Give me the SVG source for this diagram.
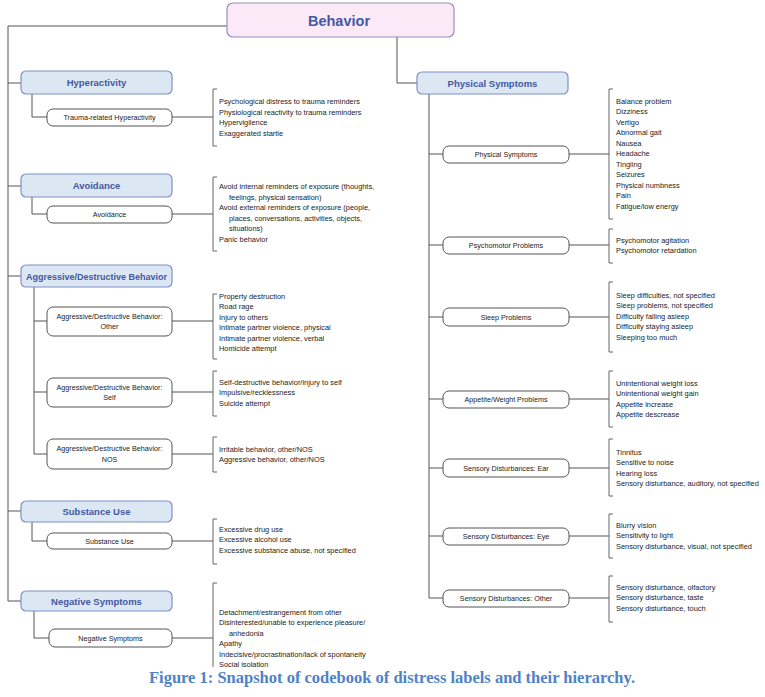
<svg xmlns="http://www.w3.org/2000/svg" width="765" height="697" viewBox="0 0 765 697">
<style>
.bg{fill:#ffffff}
.root{fill:#fbe9f8;stroke:#9a8cc6;stroke-width:1.2}
.hdr{fill:#dce7f4;stroke:#7f8fc4;stroke-width:1.2}
.sub{fill:#ffffff;stroke:#555555;stroke-width:1}
.ln{fill:none;stroke:#555555;stroke-width:1}
.br{fill:none;stroke:#666666;stroke-width:1}
.rt{font-family:"Liberation Sans",Arial,sans-serif;font-weight:bold;font-size:14.5px;fill:#4458a2;text-anchor:middle}
.ht{font-family:"Liberation Sans",Arial,sans-serif;font-weight:bold;font-size:9.5px;fill:#4458a2;text-anchor:middle}
.st{font-family:"Liberation Sans",Arial,sans-serif;font-size:7.2px;fill:#222222;text-anchor:middle}
.it{font-family:"Liberation Sans",Arial,sans-serif;font-size:7.4px;fill:#222222}
.cap{font-family:"Liberation Serif","Times New Roman",serif;font-weight:bold;font-size:16.5px;fill:#4f82c8;text-anchor:middle}
</style>
<defs>
<clipPath id="clipTop"><rect x="0" y="0" width="765" height="667"/></clipPath>
</defs>
<rect class="bg" x="0" y="0" width="765" height="697"/>

<g id="connectors">
<path class="ln" d="M227,26 H8 V601 H21"/>
<path class="ln" d="M8,83 H21 M8,186 H21 M8,276 H21 M8,511 H21"/>
<path class="ln" d="M32,94 V117 H47 M172,117 H213"/>
<path class="ln" d="M32,197 V214 H47 M172,214 H213"/>
<path class="ln" d="M34,287 V454 H47 M34,321 H47 M34,392 H47 M172,321 H213 M172,392 H213 M172,454 H213"/>
<path class="ln" d="M32,522 V541 H47 M172,541 H213"/>
<path class="ln" d="M34,611 V638 H49 M172,638 H213"/>
<path class="ln" d="M397,37 V83 H417"/>
<path class="ln" d="M429,94 V598 H443 M429,154 H443 M429,245 H443 M429,317 H443 M429,399 H443 M429,468 H443 M429,536 H443"/>
<path class="ln" d="M569,154 H609 M569,245 H609 M569,317 H609 M569,399 H609 M569,468 H609 M569,536 H609 M569,598 H609"/>
</g>

<g id="brackets">
<path class="br" d="M217,89 H213 V146 H217"/>
<path class="br" d="M217,177 H213 V251 H217"/>
<path class="br" d="M217,294 H213 V359 H217"/>
<path class="br" d="M217,371 H213 V416 H217"/>
<path class="br" d="M217,437 H213 V472 H217"/>
<path class="br" d="M217,519 H213 V564 H217"/>
<path class="br" d="M217,583 H213 V680" clip-path="url(#clipTop)"/>
<path class="br" d="M613,89 H609 V219 H613"/>
<path class="br" d="M613,229 H609 V263 H613"/>
<path class="br" d="M613,282 H609 V352 H613"/>
<path class="br" d="M613,371 H609 V427 H613"/>
<path class="br" d="M613,439 H609 V496 H613"/>
<path class="br" d="M613,514 H609 V558 H613"/>
<path class="br" d="M613,576 H609 V622 H613"/>
</g>

<g id="behavior">
<rect class="root" x="227" y="3" width="227" height="34" rx="6"/>
<text class="rt" x="339" y="25.5">Behavior</text>
</g>

<g id="hyperactivity">
<rect class="hdr" x="21" y="71" width="151" height="23" rx="5"/>
<text class="ht" x="96.5" y="86">Hyperactivity</text>
</g>
<g id="trauma-related-hyperactivity">
<rect class="sub" x="47" y="109" width="125" height="17" rx="6"/>
<text class="st" x="109.5" y="120">Trauma-related Hyperactivity</text>
</g>
<g id="list-hyperactivity" class="it">
<text x="219" y="104">Psychological distress to trauma reminders</text>
<text x="219" y="114.5">Physiological reactivity to trauma reminders</text>
<text x="219" y="125">Hypervigilence</text>
<text x="219" y="135.5">Exaggerated startle</text>
</g>

<g id="avoidance">
<rect class="hdr" x="21" y="174" width="151" height="23" rx="5"/>
<text class="ht" x="96.5" y="189">Avoidance</text>
</g>
<g id="avoidance-sub">
<rect class="sub" x="47" y="206" width="125" height="17" rx="6"/>
<text class="st" x="109.5" y="217">Avoidance</text>
</g>
<g id="list-avoidance" class="it">
<text x="219" y="189">Avoid internal reminders of exposure (thoughts,</text>
<text x="229" y="199.5">feelings, physical sensation)</text>
<text x="219" y="210">Avoid external reminders of exposure (people,</text>
<text x="229" y="220.5">places, conversations, activities, objects,</text>
<text x="229" y="231">situations)</text>
<text x="219" y="241.5">Panic behavior</text>
</g>

<g id="aggressive">
<rect class="hdr" x="21" y="265" width="151" height="22" rx="5"/>
<text class="ht" x="96.5" y="279.5" textLength="141" lengthAdjust="spacingAndGlyphs">Aggressive/Destructive Behavior</text>
</g>
<g id="aggressive-other">
<rect class="sub" x="47" y="307" width="125" height="29" rx="6"/>
<text class="st" x="109.5" y="318.5">Aggressive/Destructive Behavior:</text>
<text class="st" x="109.5" y="329">Other</text>
</g>
<g id="list-aggressive-other" class="it">
<text x="219" y="298.5">Property destruction</text>
<text x="219" y="309">Road rage</text>
<text x="219" y="319.5">Injury to others</text>
<text x="219" y="330">Intimate partner violence, physical</text>
<text x="219" y="340.5">Intimate partner violence, verbal</text>
<text x="219" y="351">Homicide attempt</text>
</g>
<g id="aggressive-self">
<rect class="sub" x="47" y="378" width="125" height="29" rx="6"/>
<text class="st" x="109.5" y="389.5">Aggressive/Destructive Behavior:</text>
<text class="st" x="109.5" y="400">Self</text>
</g>
<g id="list-aggressive-self" class="it">
<text x="219" y="384.5">Self-destructive behavior/injury to self</text>
<text x="219" y="395">Impulsive/recklessness</text>
<text x="219" y="405.5">Suicide attempt</text>
</g>
<g id="aggressive-nos">
<rect class="sub" x="47" y="439" width="125" height="30" rx="6"/>
<text class="st" x="109.5" y="451">Aggressive/Destructive Behavior:</text>
<text class="st" x="109.5" y="461.5">NOS</text>
</g>
<g id="list-aggressive-nos" class="it">
<text x="219" y="451.5">Irritable behavior, other/NOS</text>
<text x="219" y="462">Aggressive behavior, other/NOS</text>
</g>

<g id="substance-use">
<rect class="hdr" x="21" y="501" width="151" height="21" rx="5"/>
<text class="ht" x="96.5" y="515">Substance Use</text>
</g>
<g id="substance-use-sub">
<rect class="sub" x="47" y="533" width="125" height="16" rx="6"/>
<text class="st" x="109.5" y="543.5">Substance Use</text>
</g>
<g id="list-substance" class="it">
<text x="219" y="531.5">Excessive drug use</text>
<text x="219" y="542">Excessive alcohol use</text>
<text x="219" y="552.5">Excessive substance abuse, not specified</text>
</g>

<g id="negative-symptoms">
<rect class="hdr" x="21" y="591" width="151" height="20" rx="5"/>
<text class="ht" x="96.5" y="604.5">Negative Symptoms</text>
</g>
<g id="negative-symptoms-sub">
<rect class="sub" x="49" y="629" width="123" height="18" rx="6"/>
<text class="st" x="110.5" y="640.5">Negative Symptoms</text>
</g>
<g id="list-negative" class="it" clip-path="url(#clipTop)">
<text x="219" y="614.5">Detachment/estrangement from other</text>
<text x="219" y="625">Disinterested/unable to experience pleasure/</text>
<text x="229" y="635.5">anhedonia</text>
<text x="219" y="646">Apathy</text>
<text x="219" y="656.5">Indecisive/procrastination/lack of spontaneity</text>
<text x="219" y="667">Social isolation</text>
</g>

<g id="physical-symptoms">
<rect class="hdr" x="417" y="72" width="151" height="22" rx="5"/>
<text class="ht" x="492.5" y="86.5">Physical Symptoms</text>
</g>
<g id="physical-symptoms-sub">
<rect class="sub" x="443" y="146" width="126" height="17" rx="6"/>
<text class="st" x="506" y="157">Physical Symptoms</text>
</g>
<g id="list-physical" class="it">
<text x="616" y="103.5">Balance problem</text>
<text x="616" y="114">Dizziness</text>
<text x="616" y="124.5">Vertigo</text>
<text x="616" y="135">Abnormal gait</text>
<text x="616" y="145.5">Nausea</text>
<text x="616" y="156">Headache</text>
<text x="616" y="166.5">Tingling</text>
<text x="616" y="177">Seizures</text>
<text x="616" y="187.5">Physical numbness</text>
<text x="616" y="198">Pain</text>
<text x="616" y="208.5">Fatigue/low energy</text>
</g>

<g id="psychomotor">
<rect class="sub" x="443" y="237" width="126" height="17" rx="6"/>
<text class="st" x="506" y="248">Psychomotor Problems</text>
</g>
<g id="list-psychomotor" class="it">
<text x="616" y="242.5">Psychomotor agitation</text>
<text x="616" y="253">Psychomotor retardation</text>
</g>

<g id="sleep">
<rect class="sub" x="443" y="308" width="126" height="18" rx="6"/>
<text class="st" x="506" y="319.5">Sleep Problems</text>
</g>
<g id="list-sleep" class="it">
<text x="616" y="297.5">Sleep difficulties, not specified</text>
<text x="616" y="308">Sleep problems, not specified</text>
<text x="616" y="318.5">Difficulty falling asleep</text>
<text x="616" y="329">Difficulty staying asleep</text>
<text x="616" y="339.5">Sleeping too much</text>
</g>

<g id="appetite">
<rect class="sub" x="443" y="391" width="126" height="17" rx="6"/>
<text class="st" x="506" y="402">Appetite/Weight Problems</text>
</g>
<g id="list-appetite" class="it">
<text x="616" y="385.5">Unintentional weight loss</text>
<text x="616" y="396">Unintentional weight gain</text>
<text x="616" y="406.5">Appetite increase</text>
<text x="616" y="417">Appetite descrease</text>
</g>

<g id="sensory-ear">
<rect class="sub" x="443" y="459" width="126" height="18" rx="6"/>
<text class="st" x="506" y="470.5">Sensory Disturbances: Ear</text>
</g>
<g id="list-ear" class="it">
<text x="616" y="454.5">Tinnitus</text>
<text x="616" y="465">Sensitive to noise</text>
<text x="616" y="475.5">Hearing loss</text>
<text x="616" y="486">Sensory disturbance, auditory, not specified</text>
</g>

<g id="sensory-eye">
<rect class="sub" x="443" y="528" width="126" height="17" rx="6"/>
<text class="st" x="506" y="539">Sensory Disturbances: Eye</text>
</g>
<g id="list-eye" class="it">
<text x="616" y="527.5">Blurry vision</text>
<text x="616" y="538">Sensitivity to light</text>
<text x="616" y="548.5">Sensory disturbance, visual, not specified</text>
</g>

<g id="sensory-other">
<rect class="sub" x="443" y="590" width="126" height="17" rx="6"/>
<text class="st" x="506" y="601">Sensory Disturbances: Other</text>
</g>
<g id="list-sensory-other" class="it">
<text x="616" y="589.5">Sensory disturbance, olfactory</text>
<text x="616" y="600">Sensory disturbance, taste</text>
<text x="616" y="610.5">Sensory disturbance, touch</text>
</g>

<text class="cap" x="392" y="683">Figure 1: Snapshot of codebook of distress labels and their hierarchy.</text>
</svg>
